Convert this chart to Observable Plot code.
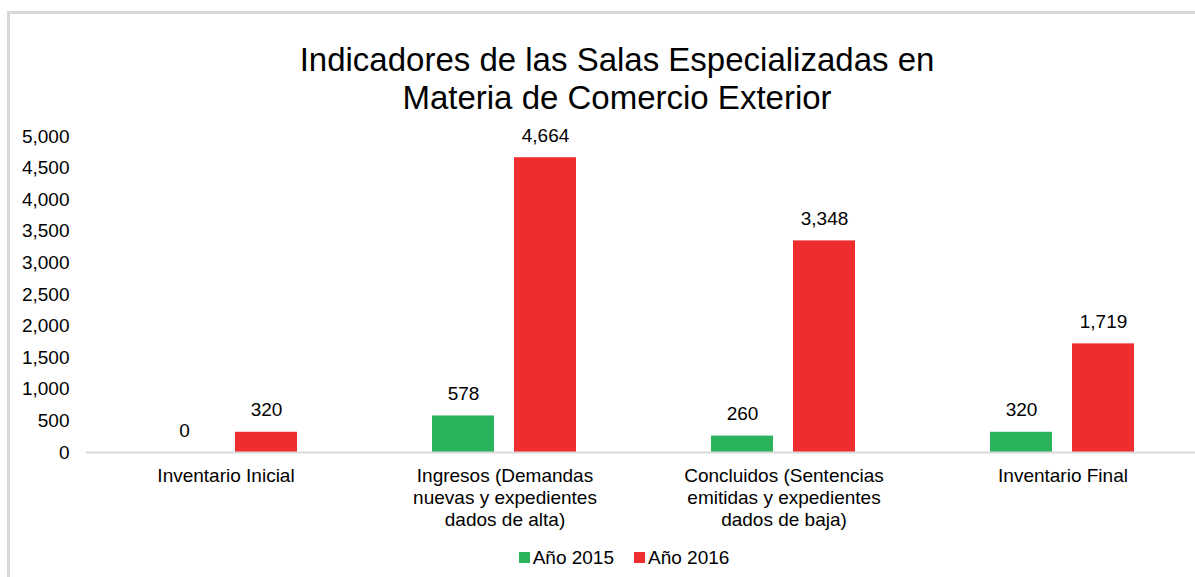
<!DOCTYPE html>
<html><head><meta charset="utf-8">
<script src="https://cdn.jsdelivr.net/npm/d3@7"></script>
<script src="https://cdn.jsdelivr.net/npm/@observablehq/plot@0.6"></script>
<style>
html,body{margin:0;padding:0;background:#fff;width:1195px;height:577px;overflow:hidden;font-family:"Liberation Sans",Arial,sans-serif;color:#000;}
#frame{position:absolute;left:7px;top:11px;width:1300px;height:700px;border-top:3px solid #d9d9d9;border-left:3px solid #d9d9d9;}
#title{position:absolute;left:0;width:1234px;top:41px;text-align:center;font-size:33px;line-height:38px;}
#chart{position:absolute;left:0;top:120px;}
#legend{position:absolute;left:0;width:1248px;top:545px;text-align:center;font-size:19px;line-height:24px;}
#legend .item{display:inline-flex;align-items:center;margin:0 10px;}
#legend .sw{display:inline-block;width:11px;height:11px;margin-right:3px;}
</style>
</head><body>
<div id="frame"></div>
<div id="title">Indicadores de las Salas Especializadas en<br>Materia de Comercio Exterior</div>
<div id="chart"></div>
<div id="legend"></div>
<script>
const categories = ["Inventario Inicial", "Ingresos (Demandas nuevas y expedientes dados de alta)", "Concluidos (Sentencias emitidas y expedientes dados de baja)", "Inventario Final"];
const categoryLabels = ["Inventario Inicial", "Ingresos (Demandas\nnuevas y expedientes\ndados de alta)", "Concluidos (Sentencias\nemitidas y expedientes\ndados de baja)", "Inventario Final"];
const series = ["Año 2015", "Año 2016"];
const anio2015 = [0, 578, 260, 320];
const anio2016 = [320, 4664, 3348, 1719];
const colors = ["#2bb35b", "#ee2e2e"];
const yTicks = [0, 500, 1000, 1500, 2000, 2500, 3000, 3500, 4000, 4500, 5000];

const data = [];
categories.forEach((c, i) => {
  data.push({cat: c, serie: series[0], value: anio2015[i]});
  data.push({cat: c, serie: series[1], value: anio2016[i]});
});
const fmt = d3.format(",");
const labelOf = new Map(categories.map((c, i) => [c, categoryLabels[i]]));

const chart = Plot.plot({
  width: 1195,
  height: 420,
  marginLeft: 86,
  marginRight: -7,
  marginTop: 16,
  marginBottom: 88,
  style: {fontFamily: '"Liberation Sans", Arial, sans-serif', fontSize: "19px", color: "#000", background: "transparent"},
  fx: {domain: categories, padding: 0, label: null},
  x: {domain: series, paddingInner: 0.2439, paddingOuter: 0.823, axis: null},
  y: {domain: [0, 5000], label: null},
  color: {domain: series, range: colors},
  marks: [
    Plot.axisY({ticks: yTicks, tickSize: 0, tickPadding: 17, tickFormat: fmt, fontSize: 19, fill: "#000", label: null}),
    Plot.axisFx({anchor: "bottom", tickSize: 0, tickPadding: 14, fontSize: 19, lineHeight: 1.16, fill: "#000", tickFormat: d => labelOf.get(d), label: null}),
    Plot.barY(data, {fx: "cat", x: "serie", y: "value", fill: "serie"}),
    Plot.ruleY([0], {stroke: "#d9d9d9", strokeWidth: 2}),
    Plot.text(data, {fx: "cat", x: "serie", y: "value", text: d => fmt(d.value), lineAnchor: "bottom", dy: -16, fontSize: 19, fill: "#000"})
  ]
});
document.getElementById("chart").appendChild(chart);

const legend = document.getElementById("legend");
series.forEach((s, i) => {
  const item = document.createElement("span");
  item.className = "item";
  const sw = document.createElement("span");
  sw.className = "sw";
  sw.style.background = colors[i];
  item.appendChild(sw);
  item.appendChild(document.createTextNode(s));
  legend.appendChild(item);
});
</script>
</body></html>
